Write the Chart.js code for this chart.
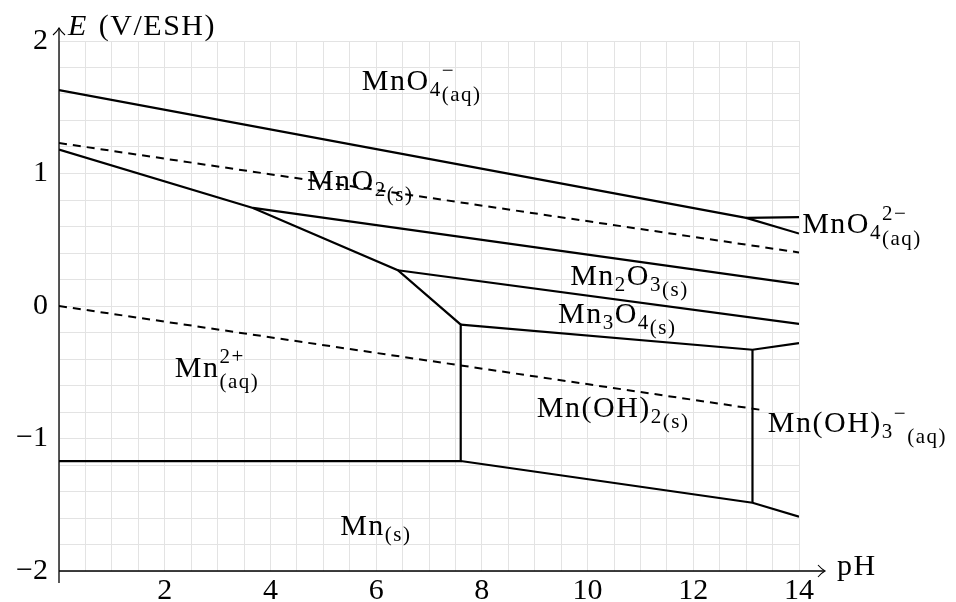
<!DOCTYPE html>
<html>
<head>
<meta charset="utf-8">
<script src="https://cdn.jsdelivr.net/npm/chart.js@4/dist/chart.umd.min.js"></script>
<style>
  body { margin: 0; background: #fff; }
  #wrap { width: 956px; height: 602px; }
</style>
</head>
<body>
<div id="wrap"><canvas id="myChart" width="956" height="602"></canvas></div>
<script>
// tick labels
const xTicks = [2, 4, 6, 8, 10, 12, 14];
const yTicks = [-2, -1, 0, 1, 2];

// boundaries of the Mn Pourbaix diagram (pH, E in V)
const pH_MnO4_top = [0, 13.0, 14];
const E_MnO4_top = [1.63, 0.665, 0.547];
const pH_MnO4_MnO42 = [13.0, 14];
const E_MnO4_MnO42 = [0.665, 0.671];
const pH_Mn2plus = [0, 3.67, 6.41, 7.6, 7.6, 0];
const E_Mn2plus = [1.18, 0.74, 0.27, -0.14, -1.17, -1.17];
const pH_MnO2_Mn2O3 = [3.67, 14];
const E_MnO2_Mn2O3 = [0.74, 0.165];
const pH_Mn2O3_Mn3O4 = [6.41, 14];
const E_Mn2O3_Mn3O4 = [0.27, -0.135];
const pH_Mn3O4_low = [7.6, 13.12, 14];
const E_Mn3O4_low = [-0.14, -0.33, -0.28];
const pH_MnOH2_MnOH3 = [13.12, 13.12];
const E_MnOH2_MnOH3 = [-0.33, -1.485];
const pH_Mn_solid = [7.6, 13.12, 14];
const E_Mn_solid = [-1.17, -1.485, -1.59];
// water stability lines (dashed)
const pH_O2 = [0, 14];
const E_O2 = [1.23, 0.404];
const pH_H2 = [0, 13.25];
const E_H2 = [0, -0.782];

// species labels: position (pH, E) and text parts
// kind: 0 normal, 1 sub, 2 lower sub, -1 sup, 'S' stacked sup/sub
const labelPH = [5.73, 4.69, 14.06, 9.67, 9.44, 2.19, 9.04, 13.41, 5.32];
const labelE = [1.63, 0.875, 0.55, 0.158, -0.128, -0.535, -0.837, -0.95, -1.727];
const labelParts = [
  [['MnO', 0], ['4', 1], ['S', '−', '(aq)']],
  [['MnO', 0], ['2', 1], ['(s)', 2]],
  [['MnO', 0], ['4', 1], ['S', '2−', '(aq)']],
  [['Mn', 0], ['2', 1], ['O', 0], ['3', 1], ['(s)', 2]],
  [['Mn', 0], ['3', 1], ['O', 0], ['4', 1], ['(s)', 2]],
  [['Mn', 0], ['S', '2+', '(aq)']],
  [['Mn(OH)', 0], ['2', 1], ['(s)', 2]],
  [['Mn(OH)', 0], ['3', 1], ['−', -1], ['(aq)', 2]],
  [['Mn', 0], ['(s)', 1]]
];

const FONT = "'Liberation Serif', serif";
const FS = 30;
const SPACING = 1.5;

function line(xs, ys, dashed) {
  return {
    data: xs.map((x, i) => ({ x: x, y: ys[i] })),
    showLine: true,
    borderColor: '#000',
    borderWidth: dashed ? 2 : 2.2,
    borderDash: dashed ? [8, 6] : [],
    pointRadius: 0,
    tension: 0,
    fill: false
  };
}

// text with a little extra tracking, returns advance
function spaced(ctx, str, x, y) {
  let cx = x;
  for (const ch of str) {
    ctx.fillText(ch, cx, y);
    cx += ctx.measureText(ch).width + SPACING;
  }
  return cx - x;
}

function drawRich(ctx, x, y, parts) {
  let cx = x;
  const small = FS * 0.7;
  ctx.textBaseline = 'alphabetic';
  ctx.textAlign = 'left';
  for (const p of parts) {
    if (p[0] === 'S') {
      ctx.font = small + 'px ' + FONT;
      const w1 = spaced(ctx, p[1], cx, y - FS * 0.45);
      const w2 = spaced(ctx, p[2], cx, y + FS * 0.38);
      cx += Math.max(w1, w2);
      continue;
    }
    const kind = p[1];
    const size = kind === 0 ? FS : small;
    let dy = 0;
    if (kind === 1) dy = FS * 0.2;
    if (kind === 2) dy = FS * 0.36;
    if (kind === -1) dy = -FS * 0.4;
    ctx.font = size + 'px ' + FONT;
    cx += spaced(ctx, p[0], cx, y + dy);
  }
}

const decor = {
  id: 'decor',
  afterDatasetsDraw(chart) {
    const ctx = chart.ctx;
    const a = chart.chartArea;
    const xs = chart.scales.x, ys = chart.scales.y;
    ctx.save();
    ctx.strokeStyle = '#000';
    ctx.lineWidth = 1.3;
    // axes with arrows
    const x0 = xs.getPixelForValue(0), yb = ys.getPixelForValue(-2);
    ctx.beginPath();
    ctx.moveTo(x0, yb); ctx.lineTo(a.right + 25, yb);
    ctx.moveTo(x0, yb + 12); ctx.lineTo(x0, a.top - 13);
    ctx.stroke();
    ctx.lineWidth = 1.1;
    ctx.beginPath();
    ctx.moveTo(a.right + 19, yb - 6); ctx.quadraticCurveTo(a.right + 23, yb - 1.5, a.right + 26, yb);
    ctx.quadraticCurveTo(a.right + 23, yb + 1.5, a.right + 19, yb + 6);
    ctx.moveTo(x0 - 6, a.top - 6); ctx.quadraticCurveTo(x0 - 1.5, a.top - 10, x0, a.top - 13);
    ctx.quadraticCurveTo(x0 + 1.5, a.top - 10, x0 + 6, a.top - 6);
    ctx.stroke();
    ctx.fillStyle = '#000';
    ctx.textBaseline = 'alphabetic';
    ctx.textAlign = 'left';
    ctx.font = FS + 'px ' + FONT;
    spaced(ctx, 'pH', a.right + 38, yb + 4);
    ctx.font = 'italic ' + FS + 'px ' + FONT;
    const wE = spaced(ctx, 'E', x0 + 9, a.top - 6);
    ctx.font = FS + 'px ' + FONT;
    spaced(ctx, ' (V/ESH)', x0 + 11 + wE, a.top - 6);
    // species labels
    labelParts.forEach((parts, i) => {
      drawRich(ctx, xs.getPixelForValue(labelPH[i]), ys.getPixelForValue(labelE[i]), parts);
    });
    ctx.restore();
  }
};

const data = {
  datasets: [
    line(pH_MnO4_top, E_MnO4_top),
    line(pH_MnO4_MnO42, E_MnO4_MnO42),
    line(pH_Mn2plus, E_Mn2plus),
    line(pH_MnO2_Mn2O3, E_MnO2_Mn2O3),
    line(pH_Mn2O3_Mn3O4, E_Mn2O3_Mn3O4),
    line(pH_Mn3O4_low, E_Mn3O4_low),
    line(pH_MnOH2_MnOH3, E_MnOH2_MnOH3),
    line(pH_Mn_solid, E_Mn_solid),
    line(pH_O2, E_O2, true),
    line(pH_H2, E_H2, true)
  ]
};

const near = (v, list) => list.find(t => Math.abs(t - v) < 1e-6);

const config = {
  type: 'scatter',
  data: data,
  options: {
    responsive: false,
    animation: false,
    layout: { padding: { left: 0, right: 157, top: 41, bottom: 0 } },
    plugins: { legend: { display: false }, tooltip: { enabled: false } },
    scales: {
      x: {
        type: 'linear', min: 0, max: 14,
        afterFit: s => { s.height = 31; },
        border: { display: false },
        grid: { color: '#e3e3e3', lineWidth: 1, drawTicks: false },
        ticks: {
          stepSize: 0.5, autoSkip: false, maxRotation: 0, padding: 2,
          color: '#000', font: { family: FONT, size: FS },
          callback: v => { const t = near(v, xTicks); return t === undefined ? '' : String(t); }
        }
      },
      y: {
        type: 'linear', min: -2, max: 2,
        afterFit: s => { s.width = 59; },
        border: { display: false },
        grid: { color: '#e3e3e3', lineWidth: 1, drawTicks: false },
        ticks: {
          stepSize: 0.2, autoSkip: false, padding: 11,
          color: '#000', font: { family: FONT, size: FS },
          callback: v => { const t = near(v, yTicks); return t === undefined ? '' : (t < 0 ? '−' + Math.abs(t) : String(t)); }
        }
      }
    }
  },
  plugins: [decor]
};

const myChart = new Chart(document.getElementById('myChart'), config);
</script>
</body>
</html>
